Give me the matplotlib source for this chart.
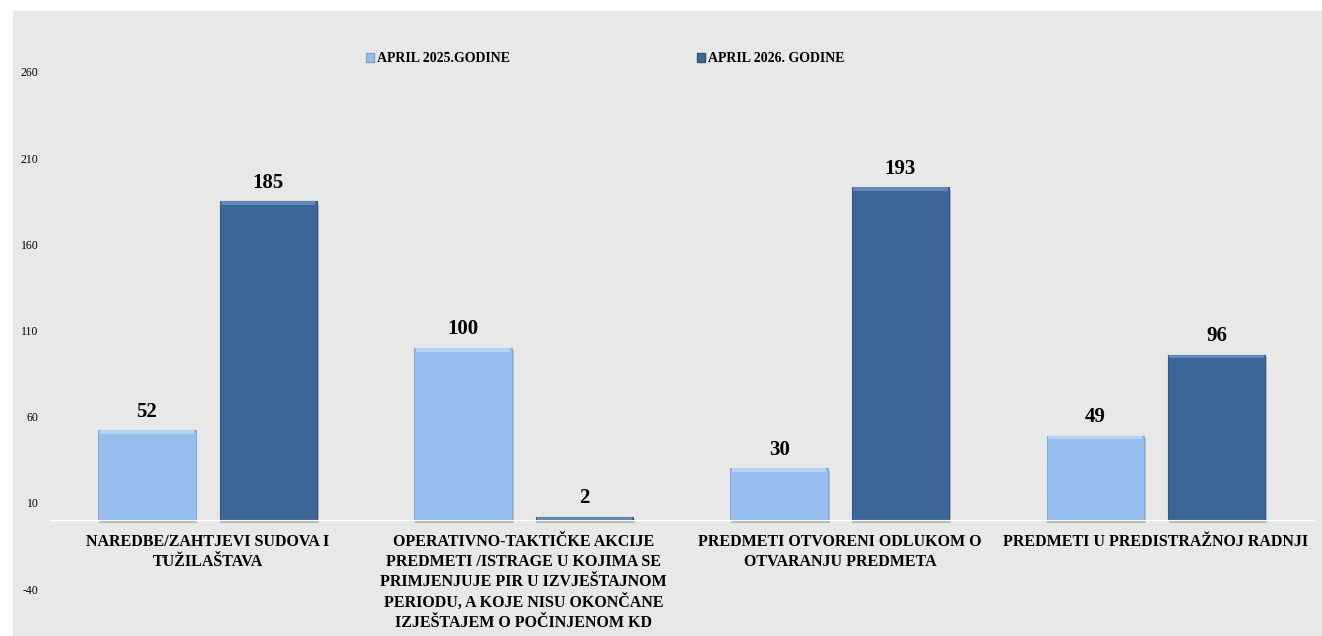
import matplotlib.pyplot as plt
from matplotlib.patches import Rectangle, Patch
import numpy as np

categories = [
    "NAREDBE/ZAHTJEVI SUDOVA I\nTUŽILAŠTAVA",
    "OPERATIVNO-TAKTIČKE AKCIJE\nPREDMETI /ISTRAGE U KOJIMA SE\nPRIMJENJUJE PIR U IZVJEŠTAJNOM\nPERIODU, A KOJE NISU OKONČANE\nIZJEŠTAJEM O POČINJENOM KD",
    "PREDMETI OTVORENI ODLUKOM O\nOTVARANJU PREDMETA",
    "PREDMETI U PREDISTRAŽNOJ RADNJI",
]
series_names = ["APRIL 2025.GODINE", "APRIL 2026. GODINE"]
values_2025 = [52, 100, 30, 49]
values_2026 = [185, 2, 193, 96]
yticks = [-40, 10, 60, 110, 160, 210, 260]

light = "#95BDEE"
dark = "#3D6698"

plt.rcParams['font.family'] = ['Liberation Serif', 'DejaVu Serif']

fig = plt.figure(figsize=(13.22, 6.36), dpi=100)
fig.patch.set_facecolor("white")
fig.patches.append(Rectangle((13 / 1322, 0), 1 - 13 / 1322, 1 - 11 / 636,
                             transform=fig.transFigure, facecolor="#E8E8E8",
                             edgecolor="none", zorder=-10))

ax = fig.add_axes([49.5 / 1322, 1 - 589 / 636, (1314 - 49.5) / 1322, (589 - 72) / 636])
ax.set_facecolor("none")

x = np.arange(len(categories))
w = 0.308
off = 0.192

# soft shadows behind bars
for vals, sign in [(values_2025, -1), (values_2026, 1)]:
    ax.bar(x + sign * off + 0.004, vals, w + 0.004, bottom=-1.6, color="#8f8f8f",
           alpha=0.5, zorder=1, linewidth=0)

b1 = ax.bar(x - off, values_2025, w, color=light, edgecolor="#86ACD8", linewidth=0.8, zorder=2)
b2 = ax.bar(x + off, values_2026, w, color=dark, edgecolor="#34598A", linewidth=0.8, zorder=2)

# bevel highlight on top of each bar
for vals, sign, hl in [(values_2025, -1, "#B5D2F5"), (values_2026, 1, "#5F86B8")]:
    tops = [max(v - 2.2, 0) for v in vals]
    ax.bar(x + sign * off, [min(2.2, v) for v in vals], w * 0.97, bottom=tops,
           color=hl, linewidth=0, zorder=2.5)

for bars, vals in [(b1, values_2025), (b2, values_2026)]:
    for rect, v in zip(bars, vals):
        ax.text(rect.get_x() + rect.get_width() / 2, v + 5, str(v),
                ha="center", va="bottom", fontsize=15, fontweight="bold", zorder=3)

ax.set_xlim(-0.5, len(categories) - 0.5)
ax.set_ylim(-40, 260)
ax.set_yticks(yticks)
ax.set_yticklabels([str(t) for t in yticks], fontsize=8.5)
ax.tick_params(axis="y", length=0, pad=8)

ax.spines['bottom'].set_position(('data', 0))
ax.spines['bottom'].set_color("white")
ax.spines['bottom'].set_linewidth(0.8)
for s in ['top', 'right', 'left']:
    ax.spines[s].set_visible(False)
ax.set_xticks(x)
ax.set_xticklabels(categories, fontsize=11.5, fontweight="bold", linespacing=1.32)
ax.tick_params(axis="x", length=0, pad=10)
for lab in ax.get_xticklabels():
    lab.set_verticalalignment("top")

handles = [Patch(facecolor=light, edgecolor="#7fa3cc"), Patch(facecolor=dark, edgecolor="#2f5281")]
leg = fig.legend(handles, series_names, loc="upper left", bbox_to_anchor=(353 / 1322, 1 - 40 / 636),
                 ncol=2, frameon=False, handlelength=0.6, handleheight=0.6, handletextpad=0.2,
                 columnspacing=13.5, prop={"weight": "bold", "size": 10})

fig.savefig("out.png", dpi=100)
